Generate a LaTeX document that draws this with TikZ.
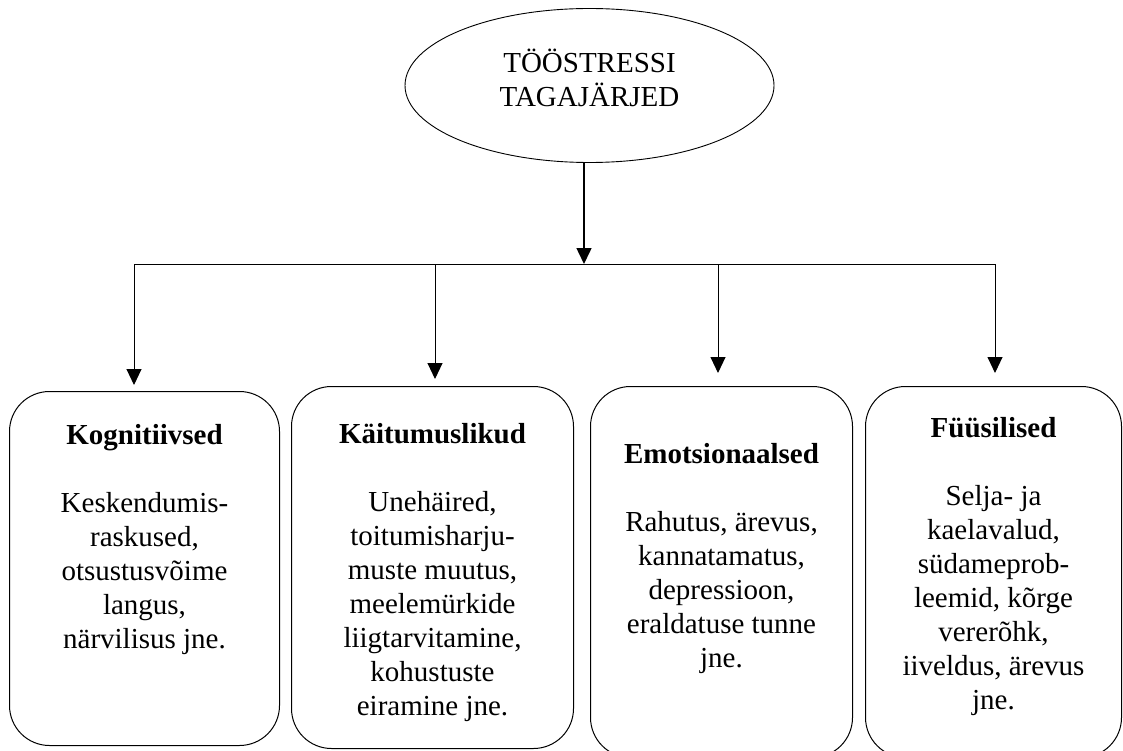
\documentclass[tikz,border=0pt]{standalone}
\usepackage{fontspec}
\setmainfont{Liberation Serif}
\usetikzlibrary{shapes.geometric, arrows.meta, positioning}

\begin{document}
\begin{tikzpicture}[x=1pt, y=-1pt]
    \tikzstyle{topic} = [ellipse, draw, line width=0.9pt, minimum width=369, minimum height=154, inner sep=0pt]
    \tikzstyle{card} = [rectangle, draw, line width=1pt, rounded corners=40, anchor=north west, inner sep=0pt]
    \tikzstyle{cardtext} = [anchor=north, align=center, inner sep=0pt, font=\fontsize{29}{34}\selectfont]
    \tikzstyle{line} = [draw, line width=1pt, -{Triangle[width=15pt, length=16pt]}]

    \useasboundingbox (0,0) rectangle (1123,751);

    \node [topic] (stress) at (589.5,85.5) {};
    \node [cardtext, anchor=center] (stresstxt) at ([yshift=8]stress.center) {TÖÖSTRESSI\\TAGAJÄRJED};

    \node [card, minimum width=270, minimum height=354] (kog) at (9,391) {};
    \node [card, minimum width=282, minimum height=362] (kait) at (291,386) {};
    \node [card, minimum width=262, minimum height=371] (emo) at (590,386) {};
    \node [card, minimum width=256, minimum height=371] (fyys) at (865,386) {};

    \node [cardtext] (kogtxt) at ([yshift=-33]kog.north) {\textbf{Kognitiivsed}\\[34pt]Keskendumis-\\raskused,\\otsustusvõime\\langus,\\närvilisus jne.};
    \node [cardtext] (kaittxt) at ([yshift=-37]kait.north) {\textbf{Käitumuslikud}\\[34pt]Unehäired,\\toitumisharju-\\muste muutus,\\meelemürkide\\liigtarvitamine,\\kohustuste\\eiramine jne.};
    \node [cardtext] (emotxt) at ([yshift=-57]emo.north) {\textbf{Emotsionaalsed}\\[34pt]Rahutus, ärevus,\\kannatamatus,\\depressioon,\\eraldatuse tunne\\jne.};
    \node [cardtext] (fyystxt) at ([yshift=-31]fyys.north) {\textbf{Füüsilised}\\[34pt]Selja- ja\\kaelavalud,\\südameprob-\\leemid, kõrge\\vererõhk,\\iiveldus, ärevus\\jne.};

    \coordinate (hub) at (584,264);
    \coordinate (j1) at (134,264);
    \coordinate (j2) at (435,264);
    \coordinate (j3) at (718,264);
    \coordinate (j4) at (995,264);

    \path [line, line width=1.5pt] (stress.south -| hub) -- (hub);
    \draw [line width=1pt] (j1) -- (j4);
    \path [line, shorten >=6] (j1) -- (j1 |- kog.north);
    \path [line, shorten >=7] (j2) -- (j2 |- kait.north);
    \path [line, shorten >=13] (j3) -- (j3 |- emo.north);
    \path [line, shorten >=13] (j4) -- (j4 |- fyys.north);
\end{tikzpicture}
\end{document}
